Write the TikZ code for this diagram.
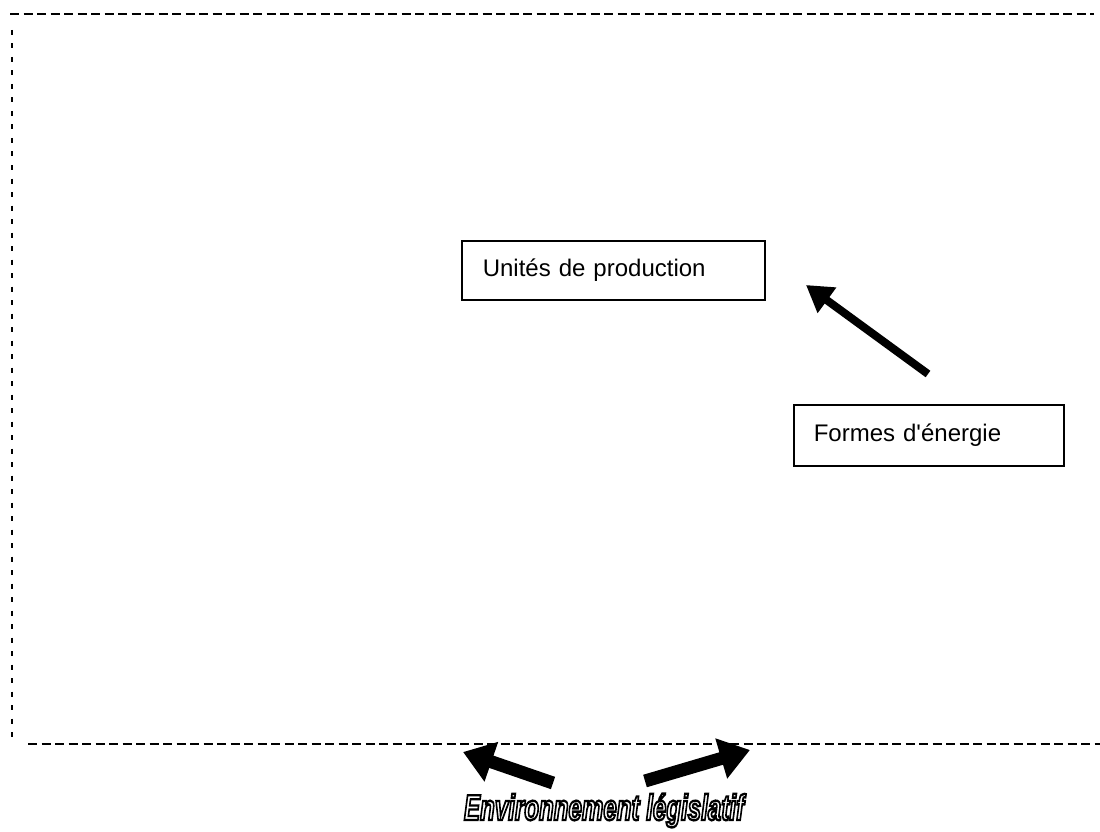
\documentclass[tikz,border=0pt]{standalone}
\usepackage{fontspec}
\setmainfont{Liberation Sans}[Ligatures=TeXOff]
\usetikzlibrary{arrows.meta}
\newcommand{\outlinetext}[1]{{\color{white}\special{pdf:code q 0 G 2.4 w 2 Tr}#1\special{pdf:code Q}}}
\begin{document}
\begin{tikzpicture}[x=1pt,y=-1pt,
  hdash/.style={line width=2.4pt, dash pattern=on 9pt off 4.5pt},
  vdash/.style={line width=2.2pt, dash pattern=on 5pt off 8.5pt},
  labelbox/.style={draw, line width=1.6pt, anchor=north west, align=left, inner sep=0pt, text height=17pt, text depth=5pt, font=\fontsize{24}{28}\selectfont},
  bigarrow/.style={line width=8pt, -{Triangle[width=30pt,length=26pt]}},
  fatarrow/.style={line width=13pt, -{Triangle[width=40pt,length=30pt]}}
]
\useasboundingbox (0,0) rectangle (1100,832);
% frame
\coordinate (tl) at (10,14);
\coordinate (tr) at (1094,14);
\coordinate (lt) at (12,30);
\coordinate (lb) at (12,742);
\coordinate (bl) at (28,744);
\coordinate (br) at (1100,744);
\draw[hdash] (tl) -- (tr);
\draw[hdash] (bl) -- (br);
\draw[vdash] (lt) -- (lb);
% boxes
\node[labelbox, minimum width=303pt, text width=303pt, minimum height=59pt] (unites) at (461,240) {\hspace*{21pt}Unités de production};
\node[labelbox, minimum width=270pt, text width=270pt, minimum height=61pt] (formes) at (793,404) {\hspace*{20pt}Formes d'énergie};
% arrow from Formes d'énergie toward Unités de production
\coordinate (a1s) at (928,374);
\coordinate (a1e) at (806,285);
\draw[bigarrow] (a1s) -- (a1e);
% bottom label
\node[font=\fontsize{36}{40}\bfseries\itshape\selectfont, xscale=0.67, inner sep=0pt, anchor=base] (env) at (604,820) {\outlinetext{Environnement législatif}};
\coordinate (b1s) at (553,783);
\coordinate (b1e) at (463,752);
\coordinate (b2s) at (645,781);
\coordinate (b2e) at (750,750);
\draw[fatarrow] (b1s) -- (b1e);
\draw[fatarrow] (b2s) -- (b2e);
\end{tikzpicture}
\end{document}
